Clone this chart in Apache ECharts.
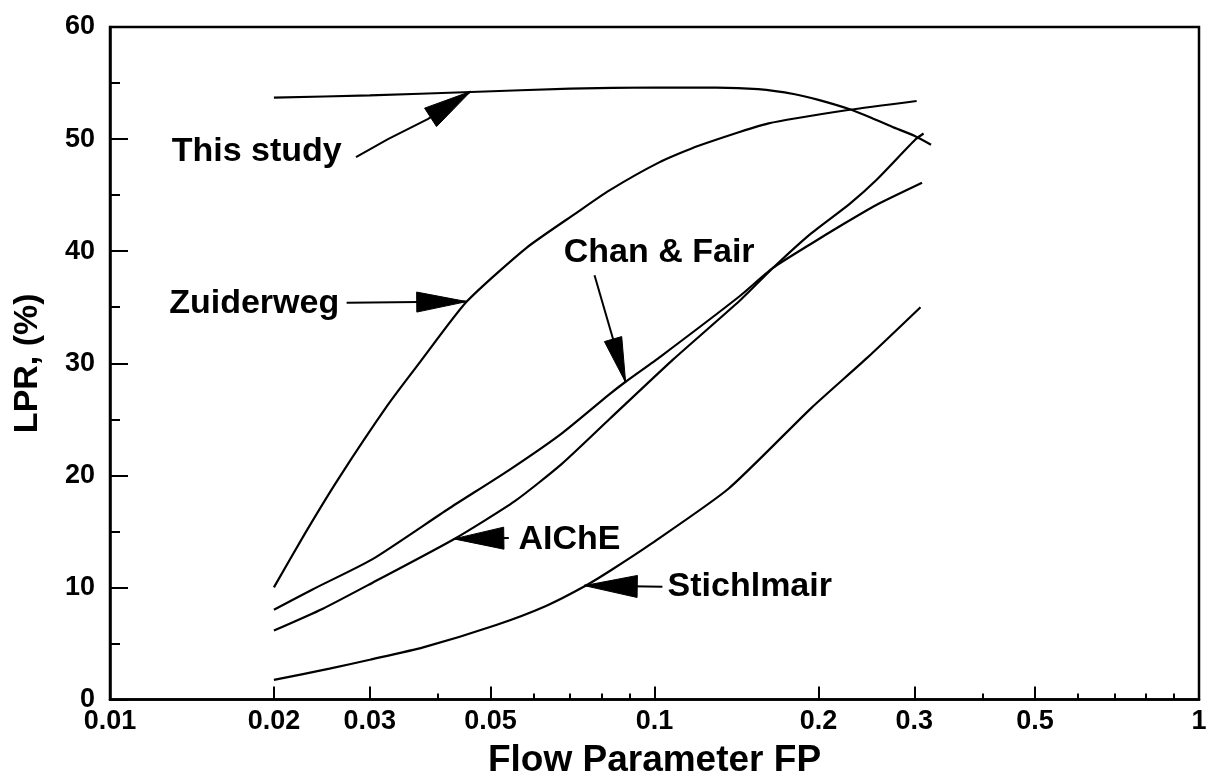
<!DOCTYPE html>
<html><head><meta charset="utf-8">
<script src="https://cdn.jsdelivr.net/npm/echarts@6/dist/echarts.min.js"></script>
<style>html,body{margin:0;padding:0;background:#fff;overflow:hidden}#c{width:1206px;height:782px}</style>
</head><body><div id="c"></div>
<script>
// ---- tick values ----
const xMajorTicks = [0.01, 0.02, 0.03, 0.05, 0.1, 0.2, 0.3, 0.5, 1];
const xMinorTicks = [0.04, 0.06, 0.07, 0.08, 0.09, 0.4, 0.6, 0.7, 0.8, 0.9];
const yMajorTicks = [0, 10, 20, 30, 40, 50, 60];
const yMinorTicks = [5, 15, 25, 35, 45, 55];

// ---- curves: [FP, LPR %] ----
const thisStudy = [[0.02,53.7],[0.03,53.9],[0.046,54.2],[0.07,54.5],[0.1,54.6],[0.13,54.6],[0.155,54.45],[0.181,54.0],[0.2,53.5],[0.227,52.7],[0.25,51.9],[0.273,51.1],[0.3,50.3],[0.322,49.5]];
const zuiderweg = [[0.02,10.0],[0.0228,14.8],[0.0262,19.6],[0.0324,26.3],[0.0371,30.1],[0.0452,35.5],[0.0582,40.3],[0.0718,43.4],[0.0825,45.4],[0.1018,47.9],[0.1205,49.4],[0.162,51.4],[0.227,52.6],[0.303,53.4]];
const chanFair = [[0.02,8.0],[0.0235,9.8],[0.0303,12.5],[0.0418,17.0],[0.0538,20.4],[0.0674,23.7],[0.0825,27.2],[0.0885,28.35],[0.1026,30.6],[0.1435,36.0],[0.165,38.5],[0.193,40.6],[0.222,42.4],[0.255,44.1],[0.31,46.1]];
const aiche = [[0.02,6.15],[0.0246,8.1],[0.0303,10.4],[0.0428,14.3],[0.0554,17.7],[0.0675,21.0],[0.0826,25.0],[0.108,30.3],[0.1435,35.6],[0.165,38.5],[0.193,41.5],[0.228,44.2],[0.255,46.3],[0.302,50.0],[0.312,50.5]];
const stichlmair = [[0.02,1.75],[0.0253,2.75],[0.030,3.55],[0.0376,4.65],[0.0512,6.65],[0.0632,8.35],[0.0747,10.15],[0.0836,11.6],[0.099,13.95],[0.1367,18.8],[0.194,26.0],[0.246,30.5],[0.308,35.0]];

// ---- annotations (data coordinates) ----
const annoLabels = ['This study', 'Zuiderweg', 'Chan & Fair', 'AIChE', 'Stichlmair'];
const annoTextPos = [[0.0186,48.9],[0.0184,35.3],[0.102,39.9],[0.0698,14.3],[0.1496,10.04]];
const annoArrows = [
  [[0.0283,48.4],[0.0324,50.0],[0.0384,51.8],[0.046,54.26]],
  [[0.0272,35.4],[0.0452,35.5]],
  [[0.0776,37.85],[0.0885,28.3]],
  [[0.054,14.4],[0.0428,14.33]],
  [[0.1034,10.05],[0.0743,10.16]]
];

// ---- styling ----
const FONT = '"Liberation Sans", Arial, Helvetica, sans-serif';
const headLen = [48, 50, 45, 50, 53];
const headWid = [22, 20, 18, 22, 22];

const chart = echarts.init(document.getElementById('c'), null, {renderer: 'canvas'});

function fmt(v){ return String(+(+v).toPrecision(3)); }

const tickLabelStyle = {fontSize: 27, fontWeight: 'bold', color: '#000', fontFamily: FONT};

function lineSeries(name, data){
  return {type: 'line', name: name, data: data, showSymbol: false, symbol: 'none',
    smooth: 0.2, lineStyle: {color: '#000', width: 2.2}, z: 3, silent: true};
}

const option = {
  backgroundColor: '#fff',
  animation: false,
  grid: {left: 110, right: 7, top: 27, bottom: 82.5, outerBoundsMode: 'none', containLabel: false,
    show: true, borderColor: '#000', borderWidth: 2.5, backgroundColor: 'transparent'},
  xAxis: [
    {type: 'log', logBase: 10, min: 0.01, max: 1, position: 'bottom',
      axisLine: {show: true, onZero: false, lineStyle: {color: '#000', width: 2.5}},
      axisTick: {show: true, inside: true, length: 13, customValues: xMajorTicks, lineStyle: {color: '#000', width: 2}},
      axisLabel: {show: true, customValues: xMajorTicks, formatter: fmt, margin: 9, ...tickLabelStyle},
      splitLine: {show: false}, minorTick: {show: false},
      name: 'Flow Parameter FP', nameLocation: 'middle', nameGap: 43,
      nameTextStyle: {fontSize: 37, fontWeight: 'bold', color: '#000', fontFamily: FONT}},
    {type: 'log', logBase: 10, min: 0.01, max: 1, position: 'bottom',
      axisLine: {show: false},
      axisTick: {show: true, inside: true, length: 6, customValues: xMinorTicks, lineStyle: {color: '#000', width: 2}},
      axisLabel: {show: false}, splitLine: {show: false}}
  ],
  yAxis: [
    {type: 'value', min: 0, max: 60, interval: 10, position: 'left',
      axisLine: {show: true, onZero: false, lineStyle: {color: '#000', width: 2.5}},
      axisTick: {show: true, inside: true, length: 18, customValues: yMajorTicks, lineStyle: {color: '#000', width: 2}},
      axisLabel: {show: true, customValues: yMajorTicks, margin: 15, ...tickLabelStyle},
      splitLine: {show: false},
      name: 'LPR, (%)', nameLocation: 'middle', nameGap: 65, nameRotate: 90,
      nameTextStyle: {fontSize: 34, fontWeight: 'bold', color: '#000', fontFamily: FONT}},
    {type: 'value', min: 0, max: 60, interval: 5, position: 'left',
      axisLine: {show: false},
      axisTick: {show: true, inside: true, length: 10, customValues: yMinorTicks, lineStyle: {color: '#000', width: 2}},
      axisLabel: {show: false}, splitLine: {show: false}}
  ],
  series: [
    lineSeries('This study', thisStudy),
    lineSeries('Zuiderweg', zuiderweg),
    lineSeries('Chan & Fair', chanFair),
    lineSeries('AIChE', aiche),
    lineSeries('Stichlmair', stichlmair),
    {type: 'custom', name: 'annotations', clip: false, silent: true, z: 5,
      data: annoTextPos,
      renderItem: function(params, api){
        const i = params.dataIndex;
        const pts = annoArrows[i].map(p => api.coord(p));
        const tip = pts[pts.length - 1], prev = pts[pts.length - 2];
        const dx = tip[0] - prev[0], dy = tip[1] - prev[1];
        const L = Math.hypot(dx, dy) || 1;
        const ux = dx / L, uy = dy / L;
        const hl = headLen[i], hw = headWid[i] / 2;
        const bx = tip[0] - ux * hl, by = tip[1] - uy * hl;
        const head = [tip, [bx - uy * hw, by + ux * hw], [bx + uy * hw, by - ux * hw]];
        const t = api.coord(annoTextPos[i]);
        return {type: 'group', children: [
          {type: 'polyline', shape: {points: pts}, style: {stroke: '#000', lineWidth: 2, fill: null}},
          {type: 'polygon', shape: {points: head}, style: {fill: '#000', stroke: '#000', lineWidth: 1}},
          {type: 'text', x: t[0], y: t[1], style: {text: annoLabels[i], fontSize: 34, fontWeight: 'bold', fontFamily: FONT, fill: '#000', align: 'center', verticalAlign: 'middle'}}
        ]};
      }
    }
  ]
};
chart.setOption(option);
</script>
</body></html>
